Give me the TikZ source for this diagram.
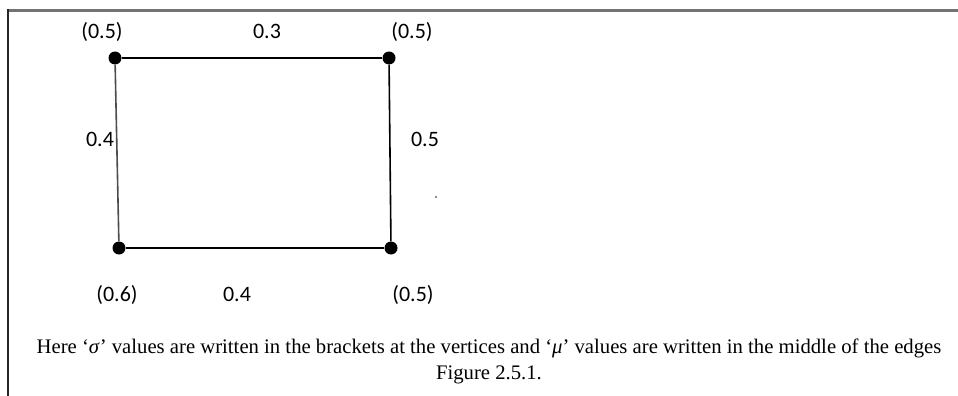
\documentclass[tikz,border=0pt]{standalone}
\usepackage{fontspec}
\setmainfont{Liberation Serif}
\newfontfamily\labelfont{Carlito}
\begin{document}
\begin{tikzpicture}[x=1pt, y=-1pt,
    vert/.style = {circle, fill=black, inner sep=0pt, minimum size=13pt},
    lbl/.style = {inner sep=0pt, text height=1.5ex, text depth=0.3ex, font=\labelfont\fontsize{22}{26}\selectfont},
    capt/.style = {inner sep=0pt, font=\fontsize{20.7}{24}\selectfont},
    edge/.style = {draw, line width=1.6pt}
]
    \useasboundingbox (0,0) rectangle (958,396);
    % frame
    \draw[black!55, line width=3pt] (7,10.5) -- (958,10.5);
    \draw[black!85, line width=2pt] (8,9) -- (8,396);

    \node[vert] (tl) at (115, 58) {};
    \node[vert] (tr) at (389, 58) {};
    \node[vert] (bl) at (119, 248) {};
    \node[vert] (br) at (391, 248) {};

    \path[edge] (tl) -- (tr);
    \path[edge] (tr) -- (br);
    \path[edge] (br) -- (bl);
    \path[edge, black!70] (bl) -- (tl);

    % sigma values
    \node[lbl] (stl) at (102, 36) {(0.5)};
    \node[lbl] (str) at (412, 36) {(0.5)};
    \node[lbl] (sbl) at (117, 299) {(0.6)};
    \node[lbl] (sbr) at (413, 299) {(0.5)};
    % mu values
    \node[lbl] (mt) at (267, 36) {0.3};
    \node[lbl] (ml) at (100, 144) {0.4};
    \node[lbl] (mr) at (425, 144) {0.5};
    \node[lbl] (mb) at (237, 299) {0.4};

    \fill[black!60] (436, 197) circle (1.2pt);

    \node[capt] (cap1) at (489, 348) {Here `\textit{σ}' values are written in the brackets at the vertices and `\textit{μ}' values are written in the middle of the edges};
    \node[capt] (cap2) at (489, 375) {Figure 2.5.1.};
\end{tikzpicture}
\end{document}
